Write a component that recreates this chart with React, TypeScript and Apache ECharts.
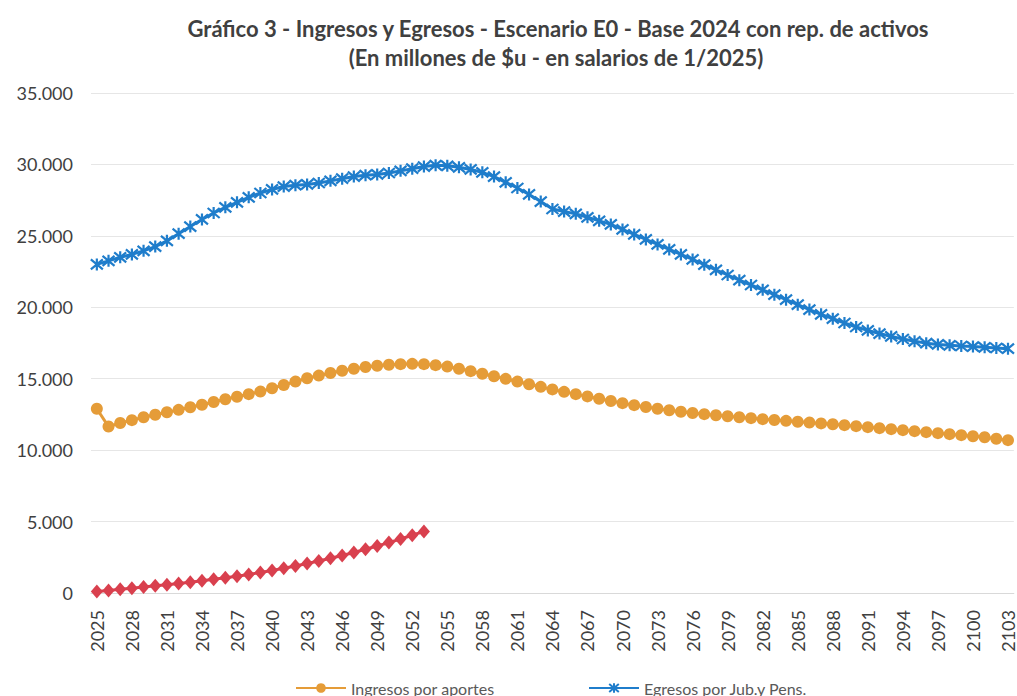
import React, { useEffect, useRef } from "react";
import * as echarts from "echarts";

const firstYear = 2025;
const lastYear = 2103;
const years: string[] = [];
for (let y = firstYear; y <= lastYear; y++) years.push(String(y));

const ingresosPorAportes = [
  12900, 11650, 11900, 12100, 12300, 12480, 12650, 12820, 13000, 13180,
  13370, 13560, 13740, 13920, 14100, 14330, 14560, 14800, 15030, 15220,
  15400, 15560, 15700, 15820, 15910, 15980, 16020, 16040, 16020, 15950,
  15850, 15700, 15530, 15350, 15170, 14990, 14800, 14610, 14430, 14250,
  14080, 13920, 13760, 13600, 13440, 13290, 13150, 13020, 12900, 12790,
  12690, 12600, 12520, 12440, 12370, 12300, 12240, 12170, 12110, 12050,
  11990, 11930, 11870, 11810, 11750, 11680, 11610, 11540, 11470, 11400,
  11330, 11260, 11190, 11120, 11050, 10970, 10900, 10800, 10700,
];

const egresosJubPens = [
  23000, 23250, 23500, 23700, 23950, 24250, 24650, 25150, 25650, 26150,
  26600, 27000, 27350, 27700, 28000, 28250, 28450, 28550, 28600, 28700,
  28850, 29000, 29150, 29250, 29300, 29400, 29550, 29700, 29850, 29950,
  29900, 29800, 29650, 29450, 29150, 28750, 28350, 27900, 27400, 26880,
  26700, 26540, 26300, 26050, 25800, 25450, 25100, 24750, 24400, 24050,
  23700, 23350, 22980, 22620, 22260, 21900, 21560, 21220, 20880, 20530,
  20180, 19840, 19510, 19200, 18900, 18620, 18380, 18160, 17960, 17780,
  17620, 17490, 17400, 17340, 17290, 17250, 17200, 17150, 17100,
];

const ingresosRepActivos = [
  100, 180, 260, 340, 420, 500, 580, 670, 760, 860,
  960, 1070, 1180, 1300, 1430, 1580, 1730, 1890, 2060, 2240,
  2430, 2630, 2840, 3060, 3290, 3530, 3780, 4040, 4310,
];

const yTicks = { min: 0, max: 35000, interval: 5000 };

const titleLine1 = "Gráfico 3 - Ingresos y Egresos - Escenario E0 - Base 2024 con rep. de activos";
const titleLine2 = "(En millones de $u - en salarios de 1/2025)";

const ORANGE = "#E59C38";
const BLUE = "#1F7DCB";
const RED = "#D9404E";
const FONT = "Lato, 'Open Sans', sans-serif";

const asterisk = "path://M0,0L10,10M10,0L0,10M5,-1L5,11";

export default function App() {
  const ref = useRef<HTMLDivElement>(null);
  useEffect(() => {
    if (!ref.current) return;
    const chart = echarts.init(ref.current, null, { renderer: "svg" });
    chart.setOption({
      animation: false,
      backgroundColor: "#ffffff",
      graphic: [
        {
          type: "text",
          x: 558,
          y: 28,
          style: {
            text: titleLine1,
            textAlign: "center",
            textVerticalAlign: "middle",
            font: `bold 22px ${FONT}`,
            fill: "#404040",
          },
        },
        {
          type: "text",
          x: 556,
          y: 57,
          style: {
            text: titleLine2,
            textAlign: "center",
            textVerticalAlign: "middle",
            font: `bold 22px ${FONT}`,
            fill: "#404040",
          },
        },
      ],
      grid: { left: 91, right: 3, top: 93, bottom: 103, containLabel: false },
      legend: [
        {
          data: ["Ingresos por aportes"],
          left: 290,
          top: 675,
          itemWidth: 50,
          itemHeight: 12,
          textStyle: { fontFamily: FONT, fontSize: 16, color: "#595959" },
        },
        {
          data: ["Egresos por Jub.y Pens."],
          left: 583,
          top: 675,
          itemWidth: 50,
          itemHeight: 12,
          textStyle: { fontFamily: FONT, fontSize: 16, color: "#595959" },
        },
      ],
      xAxis: {
        type: "category",
        data: years,
        boundaryGap: true,
        axisLine: { show: true, lineStyle: { color: "#d9d9d9" } },
        axisTick: { show: false },
        axisLabel: {
          interval: 2,
          rotate: 90,
          margin: 17,
          fontFamily: FONT,
          fontSize: 18,
          color: "#404040",
        },
      },
      yAxis: {
        type: "value",
        min: yTicks.min,
        max: yTicks.max,
        interval: yTicks.interval,
        axisLine: { show: false },
        axisTick: { show: false },
        splitLine: { lineStyle: { color: "#e6e6e6", width: 1 } },
        axisLabel: {
          margin: 18,
          fontFamily: FONT,
          fontSize: 18,
          color: "#404040",
          formatter: (v: number) =>
            String(v).replace(/\B(?=(\d{3})+(?!\d))/g, "."),
        },
      },
      series: [
        {
          name: "Ingresos por aportes",
          type: "line",
          data: ingresosPorAportes,
          symbol: "circle",
          symbolSize: 12,
          showAllSymbol: true,
          itemStyle: { color: ORANGE },
          lineStyle: { color: ORANGE, width: 3 },
        },
        {
          name: "Egresos por Jub.y Pens.",
          type: "line",
          data: egresosJubPens,
          symbol: asterisk,
          symbolSize: 12,
          showAllSymbol: true,
          itemStyle: { color: BLUE, borderColor: BLUE, borderWidth: 2.2 },
          lineStyle: { color: BLUE, width: 3 },
        },
        {
          name: "Ingresos por rep. de activos",
          type: "line",
          data: ingresosRepActivos,
          symbol: "diamond",
          symbolSize: [12, 14],
          showAllSymbol: true,
          itemStyle: { color: RED },
          lineStyle: { color: RED, width: 3 },
        },
      ],
    });
    return () => chart.dispose();
  }, []);
  return (
    <div
      ref={ref}
      style={{ position: "fixed", left: 0, top: 0, width: 1017, height: 696 }}
    />
  );
}
